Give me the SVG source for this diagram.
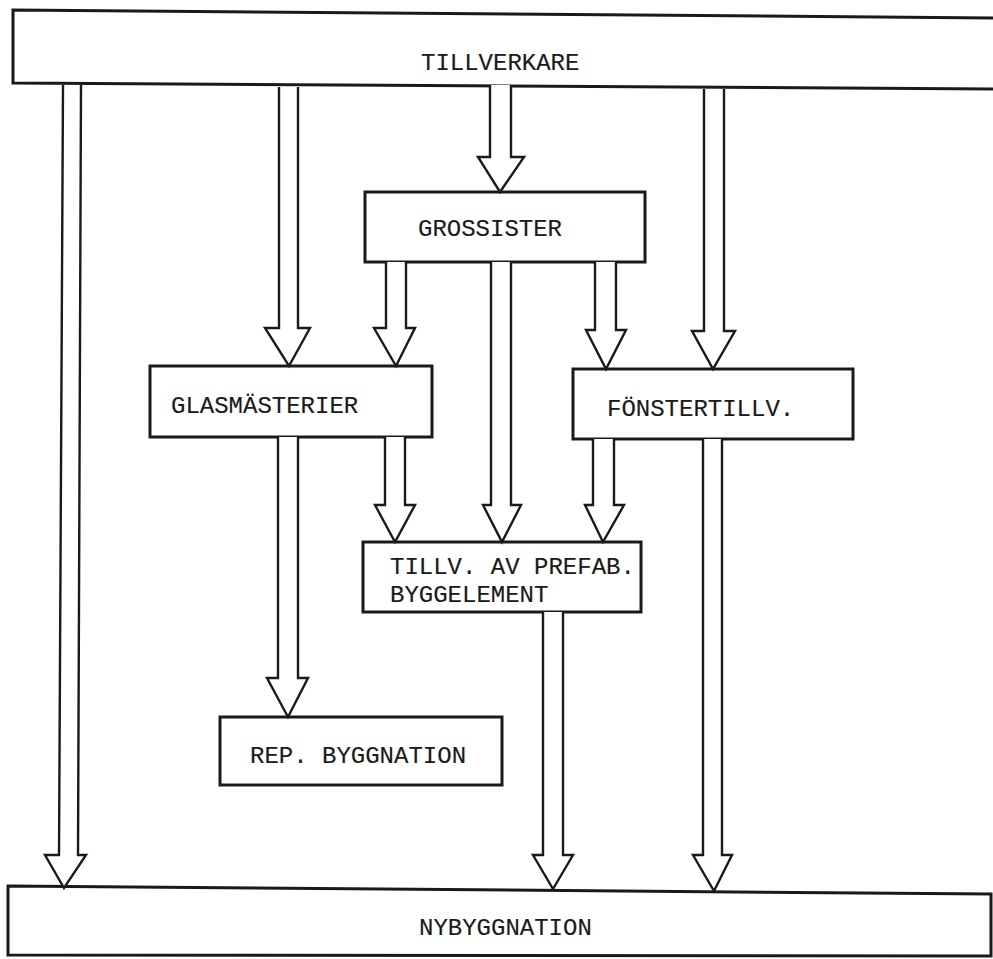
<svg xmlns="http://www.w3.org/2000/svg" width="993" height="959" viewBox="0 0 993 959">
<style>
.box{fill:#fff;stroke:#1a1a1a;stroke-width:3;stroke-linejoin:miter}
.arr{fill:#fff;stroke:#1a1a1a;stroke-width:2.4;stroke-linejoin:miter}
.t{font-family:"Liberation Mono","DejaVu Sans Mono",monospace;font-size:24px;fill:#1a1a1a;stroke:#1a1a1a;stroke-width:0.15}
</style>
<rect x="0" y="0" width="993" height="959" fill="#fff"/>
<g id="tillverkare">
<path class="box" d="M13,10 L995,18 L995,89 L13,83 Z"/>
<text class="t" x="421" y="70">TILLVERKARE</text>
</g>
<g id="grossister">
<rect class="box" x="365" y="192" width="280" height="70"/>
<text class="t" x="418" y="236">GROSSISTER</text>
</g>
<g id="glasmasterier">
<rect class="box" x="150" y="366" width="282" height="71"/>
<text class="t" x="171" y="413">GLASMÄSTERIER</text>
</g>
<g id="fonstertillv">
<rect class="box" x="573" y="369" width="280" height="70"/>
<text class="t" x="607" y="416">FÖNSTERTILLV.</text>
</g>
<g id="prefab">
<rect class="box" x="363" y="542" width="278" height="70"/>
<text class="t" x="390" y="574">TILLV. AV PREFAB.</text>
<text class="t" x="390" y="602">BYGGELEMENT</text>
</g>
<g id="rep">
<rect class="box" x="220" y="717" width="282" height="68"/>
<text class="t" x="250" y="763">REP. BYGGNATION</text>
</g>
<g id="nybyggnation">
<path class="box" d="M8,886 L991,894 L991,956 L8,955 Z"/>
<text class="t" x="419" y="935">NYBYGGNATION</text>
</g>
<g id="connectors">
<path class="arr" d="M63,85 L59,855 H45 L64,888 L86,855 H78 L81,85"/>
<path class="arr" d="M279,87 V328 H265 L289,366 L310,328 H298 V87"/>
<path class="arr" d="M490,85 V157 H478 L500,192 L524,157 H511 V85"/>
<path class="arr" d="M704,89 V331 H692 L713,369 L735,331 H724 V89"/>
<path class="arr" d="M386,262 V328 H374 L396,366 L415,328 H406 V262"/>
<path class="arr" d="M491,262 V505 H483 L502,542 L521,505 H511 V262"/>
<path class="arr" d="M595,262 V330 H586 L606,369 L626,330 H616 V262"/>
<path class="arr" d="M385,437 V505 H375 L395,542 L415,505 H405 V437"/>
<path class="arr" d="M278,437 V678 H267 L288,717 L308,678 H298 V437"/>
<path class="arr" d="M593,439 V505 H585 L603,542 L624,505 H614 V439"/>
<path class="arr" d="M703,439 V855 H693 L714,891 L732,855 H722 V439"/>
<path class="arr" d="M543,612 V855 H533 L553,889 L573,855 H563 V612"/>
</g>
</svg>
